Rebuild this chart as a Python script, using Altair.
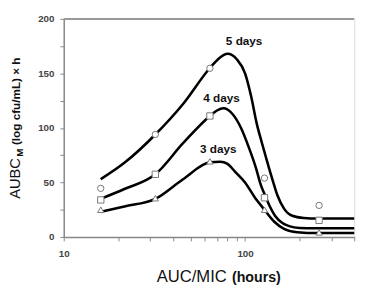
import altair as alt
import pandas as pd

# ---- data ----
fit5_x = [16, 21.6, 32, 45.5, 64, 72, 80, 90, 100, 108, 116, 124, 133, 142, 151, 164, 182, 211, 250, 400]
fit5_y = [53, 68, 94, 122, 155, 164, 168, 163, 150, 129, 104, 86, 68, 52, 38, 26, 19.5, 17.5, 17, 17]
fit4_x = [16, 21.6, 32, 45.5, 64, 70, 76, 85, 95, 105, 115, 122, 129, 137, 147, 160, 175, 200, 240, 400]
fit4_y = [35, 44, 57.5, 86, 111, 116, 118, 113, 100, 82, 63, 48, 38, 28, 19, 13, 10, 8.3, 8, 8]
fit3_x = [16, 21.6, 32, 45.5, 64, 73, 80, 88, 100, 113, 128, 145, 164, 194, 250, 400]
fit3_y = [23, 28, 35, 53, 68.5, 69, 67, 60, 50, 36.5, 25, 14, 7.5, 4.4, 3.6, 3.6]

dose = [16, 32, 64, 128, 256]
obs5 = [44.6, 94, 154.7, 54, 29]
obs4 = [34, 57.5, 111, 36, 15.3]
obs3 = [25, 35.6, 69.4, 25, 4.2]

series = ["5 days", "4 days", "3 days"]
label_x = [98.8, 74.2, 71.2]
label_y = [179.5, 127.5, 80.8]

x_ticks = [10, 20, 30, 40, 50, 60, 70, 80, 90, 100, 200, 300, 400]
y_ticks = [0, 25, 50, 75, 100, 125, 150, 175, 200]

# ---- tables ----
fit = pd.concat([
    pd.DataFrame({"x": fit5_x, "y": fit5_y, "s": "5 days"}),
    pd.DataFrame({"x": fit4_x, "y": fit4_y, "s": "4 days"}),
    pd.DataFrame({"x": fit3_x, "y": fit3_y, "s": "3 days"}),
])
obs = pd.concat([
    pd.DataFrame({"x": dose, "y": obs5, "s": "5 days"}),
    pd.DataFrame({"x": dose, "y": obs4, "s": "4 days"}),
    pd.DataFrame({"x": dose, "y": obs3, "s": "3 days"}),
])
labels = pd.DataFrame({"x": label_x, "y": label_y, "t": series})

W, H = 297, 223
FONT = "Liberation Sans"

xscale = alt.Scale(type="log", domain=[10, 400], nice=False)
yscale = alt.Scale(domain=[0, 200], nice=False)

xaxis = alt.Axis(values=x_ticks, title=None, grid=False,
                 labelExpr="(datum.value==10||datum.value==100)?format(datum.value,'d'):''",
                 tickSize=4, labelPadding=8, domainColor="#888", domainWidth=1.5,
                 tickColor="#888", labelFont=FONT, labelFontWeight="bold",
                 labelFontSize=10, labelColor="#444", labelFlush=False)
yaxis = alt.Axis(values=y_ticks, title=None, grid=False,
                 labelExpr="datum.value % 50 == 0 ? format(datum.value,'d') : ''",
                 tickSize=4, labelPadding=6, domainColor="#888", domainWidth=1.5,
                 tickColor="#888", labelFont=FONT, labelFontWeight="bold",
                 labelFontSize=10, labelColor="#444")

lines = alt.Chart(fit).mark_line(color="black", strokeWidth=2.6, interpolate="monotone").encode(
    x=alt.X("x:Q", scale=xscale, axis=xaxis),
    y=alt.Y("y:Q", scale=yscale, axis=yaxis),
    detail="s:N",
)

top = alt.Chart(pd.DataFrame({"y": [200]})).mark_rule(color="#999", strokeWidth=2).encode(
    y=alt.Y("y:Q", scale=yscale, axis=yaxis))

pts = alt.Chart(obs).mark_point(filled=True, fill="white", stroke="#777", strokeWidth=1, size=42, opacity=1).encode(
    x=alt.X("x:Q", scale=xscale, axis=xaxis),
    y=alt.Y("y:Q", scale=yscale, axis=yaxis),
    shape=alt.Shape("s:N", scale=alt.Scale(domain=series, range=["circle", "square", "triangle-up"]), legend=None),
)

txt = alt.Chart(labels).mark_text(font=FONT, fontWeight="bold", fontSize=12, color="#111").encode(
    x=alt.X("x:Q", scale=xscale, axis=xaxis),
    y=alt.Y("y:Q", scale=yscale, axis=yaxis),
    text="t:N",
)

def ptext(s, x, y, size, weight="normal", angle=0, align="left"):
    return alt.Chart(pd.DataFrame({"t": [s]})).mark_text(
        font=FONT, fontSize=size, fontWeight=weight, angle=angle, align=align,
        baseline="alphabetic", color="#111").encode(
        x=alt.value(x), y=alt.value(y), text="t:N")

titles = [
    ptext("AUC/MIC", 95, 269, 17),
    ptext("(hours)", 172, 269, 14.5, "bold"),
    ptext("AUBC", -45, 184, 15, angle=270),
    ptext("M", -42, 141, 10, "bold", angle=270),
    ptext("(log cfu/mL) × h", -45, 129, 12, "bold", angle=270),
]

chart = alt.layer(lines, top, pts, txt, *titles).properties(
    width=W, height=H,
    autosize=alt.AutoSizeParams(type="none"),
    padding={"left": 57, "top": 8, "right": 10, "bottom": 49},
).configure_view(stroke=None).configure(background="white")

chart.save("out.html", embed_options={"renderer": "svg", "actions": False})
